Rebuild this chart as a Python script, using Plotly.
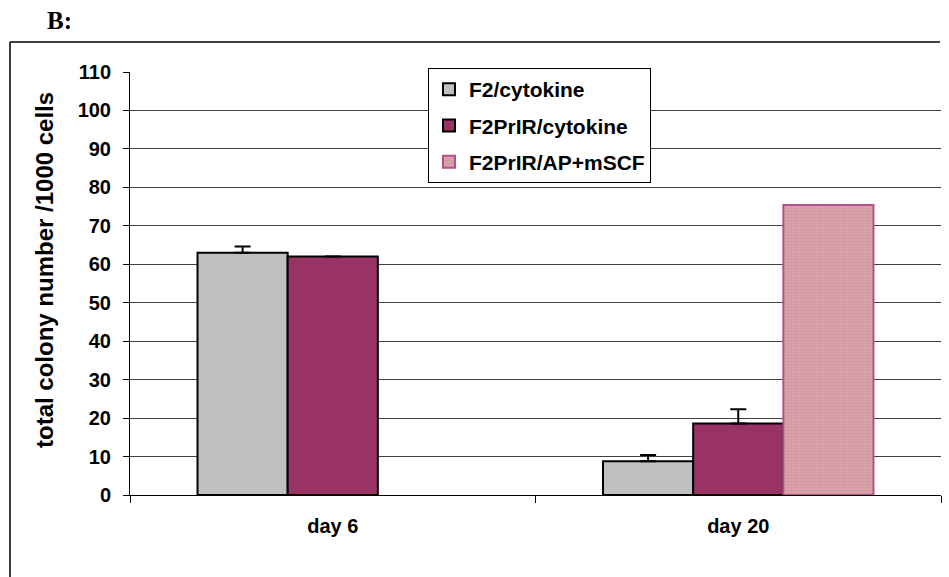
import plotly.graph_objects as go

# Colony counts per 1000 cells, by day of culture
days = ["day 6", "day 20"]
f2_cytokine = [63.0, 8.8]
f2_cytokine_err = [1.6, 1.6]
f2prir_cytokine = [62.0, 18.6]
f2prir_cytokine_err = [0.0, 3.7]
f2prir_ap_mscf = [None, 75.4]

series_names = ["F2/cytokine", "F2PrIR/cytokine", "F2PrIR/AP+mSCF"]

FONT = "Arial, Liberation Sans, sans-serif"
W, H = 949, 577
L, R, T, B = 130, 8, 72, 82
PW, PH = W - L - R, H - T - B


def px_to_paper(x, y):
    return (x - L) / PW, (H - B - y) / PH


fig = go.Figure()

fig.add_trace(go.Bar(
    x=days, y=f2_cytokine, name=series_names[0], legendgroup="a",
    marker=dict(color="#c0c0c0", line=dict(color="#000000", width=2)),
    error_y=dict(type="data", symmetric=False, array=f2_cytokine_err,
                 arrayminus=[0, 0], color="#000000", thickness=2, width=8),
))
fig.add_trace(go.Bar(
    x=days, y=f2prir_cytokine, name=series_names[1], legendgroup="b",
    marker=dict(color="#993366", line=dict(color="#000000", width=2)),
    error_y=dict(type="data", symmetric=False, array=f2prir_cytokine_err,
                 arrayminus=[0, 0], color="#000000", thickness=2, width=8),
))
fig.add_trace(go.Bar(
    x=days, y=f2prir_ap_mscf, name=series_names[2], legendgroup="c",
    marker=dict(color="#f0dcc8", line=dict(color="#b5508a", width=2),
                pattern=dict(shape=".", fgcolor="#b8587f", bgcolor="#f0dcc8",
                             size=3, solidity=0.85)),
))

# outer frame (top and left edges)
x0, y0 = px_to_paper(10, 42)
x1, _ = px_to_paper(940, 42)
_, y1 = px_to_paper(10, 577)
fig.add_shape(type="line", xref="paper", yref="paper", x0=x0, y0=y0, x1=x1, y1=y0,
              line=dict(color="#000000", width=1.5))
fig.add_shape(type="line", xref="paper", yref="paper", x0=x0, y0=y0, x1=x0, y1=y1,
              line=dict(color="#000000", width=1.5))

# panel label
bx, by = px_to_paper(59, 20)
fig.add_annotation(text="<b>B:</b>", xref="paper", yref="paper", x=bx, y=by,
                   xanchor="center", yanchor="middle", showarrow=False,
                   font=dict(family="Times New Roman, Liberation Serif, serif",
                             size=25, color="#000000"))

# y axis title
tx, ty = px_to_paper(44, 270)
fig.add_annotation(text="<b>total colony number /1000 cells</b>", xref="paper", yref="paper",
                   x=tx, y=ty, xanchor="center", yanchor="middle", textangle=-90,
                   showarrow=False, font=dict(family=FONT, size=24, color="#000000"))

lx, ly = px_to_paper(428, 68)
fig.update_layout(
    width=W, height=H,
    margin=dict(l=L, r=R, t=T, b=B),
    paper_bgcolor="#ffffff", plot_bgcolor="#ffffff",
    barmode="group", bargap=0.333, bargroupgap=0,
    font=dict(family=FONT, color="#000000"),
    showlegend=True,
    legend=dict(x=lx, y=ly, xanchor="left", yanchor="top",
                bgcolor="#ffffff", bordercolor="#000000", borderwidth=1,
                font=dict(family=FONT, size=21, color="#000000", weight="bold"),
                tracegroupgap=6, itemsizing="constant"),
    xaxis=dict(type="category", showline=True, linecolor="#000000", linewidth=1,
               ticks="outside", tickson="boundaries", ticklen=7, tickcolor="#000000",
               tickfont=dict(family=FONT, size=20, color="#000000", weight="bold"),
               ticklabelstandoff=13, showgrid=False, zeroline=False),
    yaxis=dict(range=[0, 110], dtick=10, tick0=0, showline=True, linecolor="#000000",
               linewidth=1, ticks="outside", ticklen=6, tickcolor="#000000",
               tickfont=dict(family=FONT, size=20, color="#000000", weight="bold"),
               ticklabelstandoff=8, showgrid=True, gridcolor="#404040", gridwidth=1,
               zeroline=False),
)

fig.write_html("out.html")
